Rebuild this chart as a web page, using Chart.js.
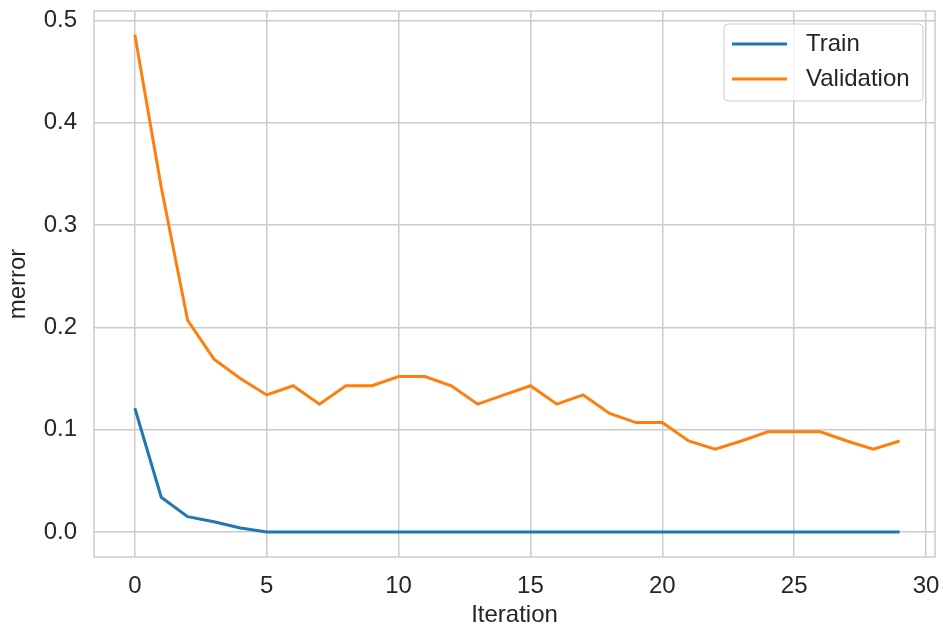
<!DOCTYPE html>
<html>

<head>
    <meta charset="UTF-8">
    <title>merror by iteration</title>
    <script src="https://cdn.jsdelivr.net/npm/chart.js"></script>
    <style>
        body { margin: 0; background: #fff; }
    </style>
</head>

<body>
    <canvas id="errChart" width="943" height="631"></canvas>

    <script>
        const iterations = [0, 1, 2, 3, 4, 5, 6, 7, 8, 9, 10, 11, 12, 13, 14,
            15, 16, 17, 18, 19, 20, 21, 22, 23, 24, 25, 26, 27, 28, 29];
        const trainErr = [0.121, 0.034, 0.015, 0.010, 0.004, 0, 0, 0, 0, 0,
            0, 0, 0, 0, 0, 0, 0, 0, 0, 0,
            0, 0, 0, 0, 0, 0, 0, 0, 0, 0];
        const validErr = [0.486, 0.337, 0.207, 0.169, 0.150, 0.134, 0.143, 0.125, 0.143, 0.143,
            0.152, 0.152, 0.143, 0.125, 0.134, 0.143, 0.125, 0.134, 0.116, 0.107,
            0.107, 0.089, 0.081, 0.089, 0.098, 0.098, 0.098, 0.089, 0.081, 0.089];
        const xTicks = [0, 5, 10, 15, 20, 25, 30];
        const yTicks = [0.0, 0.1, 0.2, 0.3, 0.4, 0.5];

        const FONT = "'Liberation Sans', Arial, sans-serif";
        const TEXT = "#262626";
        const GRID = "#cccccc";

        const toPoints = (vals) => vals.map((v, i) => ({ x: iterations[i], y: v }));

        // frame around the plot area (seaborn whitegrid spines)
        const frame = {
            id: "frame",
            beforeDatasetsDraw(chart) {
                const { ctx, chartArea: a } = chart;
                ctx.save();
                ctx.strokeStyle = GRID;
                ctx.lineWidth = 1.5;
                ctx.strokeRect(a.left, a.top, a.right - a.left, a.bottom - a.top);
                ctx.restore();
            }
        };

        // matplotlib-like legend box in the upper right corner
        const boxLegend = {
            id: "boxLegend",
            afterDatasetsDraw(chart) {
                const { ctx, chartArea: a } = chart;
                const w = 199, h = 77;
                const x = a.right - 12 - w, y = a.top + 13;
                ctx.save();
                ctx.beginPath();
                ctx.roundRect(x, y, w, h, 4);
                ctx.fillStyle = "rgba(255,255,255,0.8)";
                ctx.fill();
                ctx.strokeStyle = GRID;
                ctx.lineWidth = 1;
                ctx.stroke();
                ctx.font = "24px " + FONT;
                ctx.textBaseline = "middle";
                chart.data.datasets.forEach((ds, i) => {
                    const ly = y + 20 + i * 35;
                    ctx.beginPath();
                    ctx.moveTo(x + 8, ly);
                    ctx.lineTo(x + 63, ly);
                    ctx.strokeStyle = ds.borderColor;
                    ctx.lineWidth = 3;
                    ctx.stroke();
                    ctx.fillStyle = TEXT;
                    ctx.fillText(ds.label, x + 82, ly);
                });
                ctx.restore();
            }
        };

        // fixed axis boxes, no extra room for overhanging labels
        const fixY = s => { s.width = 94; s.paddingTop = 0; s.paddingBottom = 0; };
        const fixX = s => { s.height = 74; s.paddingLeft = 0; s.paddingRight = 0; };

        new Chart(document.getElementById("errChart"), {
            type: "line",
            data: {
                datasets: [
                    {
                        label: "Train",
                        data: toPoints(trainErr),
                        borderColor: "#1f77b4",
                        borderWidth: 3,
                        pointRadius: 0,
                        tension: 0,
                        fill: false,
                    },
                    {
                        label: "Validation",
                        data: toPoints(validErr),
                        borderColor: "#ff7f0e",
                        borderWidth: 3,
                        pointRadius: 0,
                        tension: 0,
                        fill: false,
                    }
                ]
            },
            options: {
                responsive: false,
                animation: false,
                layout: { padding: { top: 11, right: 8, bottom: 0, left: 0 } },
                scales: {
                    x: {
                        type: "linear",
                        min: -1.55,
                        max: 30.34,
                        afterFit: fixX,
                        afterBuildTicks: s => { s.ticks = xTicks.map(v => ({ value: v })); },
                        grid: { color: GRID, lineWidth: 1.5, drawTicks: false },
                        border: { display: false },
                        ticks: {
                            padding: 15,
                            color: TEXT,
                            font: { family: FONT, size: 24 },
                            maxRotation: 0,
                            callback: v => String(v)
                        },
                        title: {
                            display: true,
                            text: "Iteration",
                            color: TEXT,
                            font: { family: FONT, size: 24 },
                            padding: { top: 0, bottom: 1 }
                        }
                    },
                    y: {
                        min: -0.0244,
                        max: 0.5093,
                        afterFit: fixY,
                        afterBuildTicks: s => { s.ticks = yTicks.map(v => ({ value: v })); },
                        grid: { color: GRID, lineWidth: 1.5, drawTicks: false },
                        border: { display: false },
                        ticks: {
                            padding: 17,
                            color: TEXT,
                            font: { family: FONT, size: 24 },
                            callback: v => v.toFixed(1)
                        },
                        title: {
                            display: true,
                            text: "merror",
                            color: TEXT,
                            font: { family: FONT, size: 24 },
                            padding: { top: 4, bottom: 0 }
                        }
                    }
                },
                plugins: {
                    legend: { display: false },
                    tooltip: { enabled: false }
                }
            },
            plugins: [frame, boxLegend]
        });
    </script>
</body>

</html>
